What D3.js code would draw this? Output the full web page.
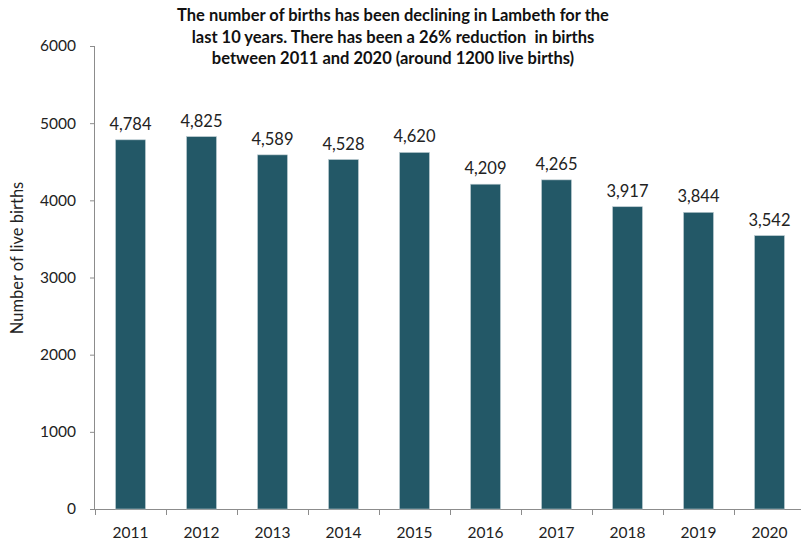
<!DOCTYPE html>
<html><head><meta charset="utf-8">
<script src="https://cdn.jsdelivr.net/npm/d3@7"></script>
<style>body{margin:0;background:#fff}svg{display:block}</style>
</head><body>
<script>
const years = ["2011","2012","2013","2014","2015","2016","2017","2018","2019","2020"];
const births = [4784,4825,4589,4528,4620,4209,4265,3917,3844,3542];
const yTicks = [0,1000,2000,3000,4000,5000,6000];
const titleLines = ["The number of births has been declining in Lambeth for the","last 10 years. There has been a 26% reduction  in births","between 2011 and 2020 (around 1200 live births)"];
const yTitle = "Number of live births";

const W = 801, H = 542;
const font = "Lato, 'Open Sans', sans-serif";
const svg = d3.select("body").append("svg").attr("width", W).attr("height", H);

const x = d3.scaleBand().domain(years).range([95, 805]).paddingInner(0.58).paddingOuter(0.29);
const y = d3.scaleLinear().domain([0, 6000]).range([509, 46]);

// y axis
const ya = svg.append("g").attr("transform", "translate(95,0)")
  .call(d3.axisLeft(y).tickValues(yTicks).tickSize(5).tickPadding(14).tickFormat(d3.format("d")));
ya.select(".domain").attr("stroke", "#8c8c8c").attr("d", "M-0.5," + y(6000) + "V" + y(0));
ya.selectAll(".tick line").attr("stroke", "#8c8c8c");
ya.selectAll("text").attr("font-family", font).attr("font-size", 15.5).attr("fill", "#222");

// x axis
const step = x.step();
const xa = svg.append("g").attr("transform", "translate(0,509)");
xa.append("line").attr("x1", 95).attr("x2", 801).attr("y1", 0.5).attr("y2", 0.5).attr("stroke", "#8c8c8c");
const bounds = [years[0]].concat(years).map((d, i) => 95 + i * step);
xa.selectAll("line.t").data(bounds).join("line").attr("class", "t")
  .attr("x1", d => d + 0.5).attr("x2", d => d + 0.5).attr("y1", 0).attr("y2", 6).attr("stroke", "#8c8c8c");
xa.selectAll("text").data(years).join("text")
  .attr("x", d => x(d) + x.bandwidth() / 2).attr("y", 29)
  .attr("text-anchor", "middle").attr("font-family", font).attr("font-size", 15.5).attr("fill", "#222")
  .text(d => d);

// bars
svg.append("g").selectAll("rect").data(years).join("rect")
  .attr("x", d => x(d)).attr("width", x.bandwidth())
  .attr("y", (d, i) => y(births[i])).attr("height", (d, i) => y(0) - y(births[i]))
  .attr("fill", "#235867").attr("stroke", "#b8c8ce").attr("stroke-width", 0.6);

// labels
svg.append("g").selectAll("text").data(years).join("text")
  .attr("x", d => x(d) + x.bandwidth() / 2).attr("y", (d, i) => y(births[i]) - 10)
  .attr("text-anchor", "middle").attr("font-family", font).attr("font-size", 16.5).attr("fill", "#222")
  .text((d, i) => d3.format(",")(births[i]));

// title
svg.append("g").selectAll("text").data(titleLines).join("text")
  .attr("x", 393).attr("y", (d, i) => 21 + i * 21.5)
  .attr("text-anchor", "middle").attr("font-family", font).attr("font-weight", "bold")
  .attr("font-size", 16.5).attr("fill", "#111").attr("xml:space", "preserve").style("white-space", "pre")
  .text(d => d);

// y title
svg.append("text").attr("transform", "translate(23,258) rotate(-90)")
  .attr("text-anchor", "middle").attr("font-family", font).attr("font-size", 16.5).attr("fill", "#222")
  .text(yTitle);
</script>
</body></html>
